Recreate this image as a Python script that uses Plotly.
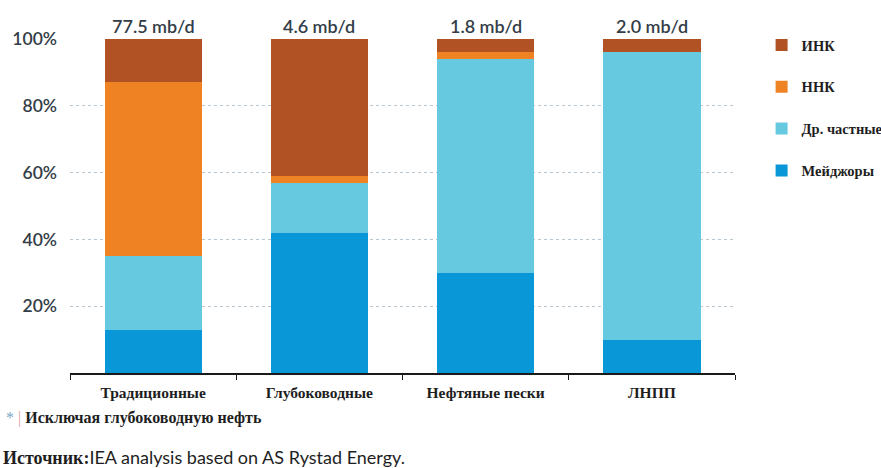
import plotly.graph_objects as go

# Production segments and their totals
categories = ["Традиционные", "Глубоководные", "Нефтяные пески", "ЛНПП"]
totals = ["77.5 mb/d", "4.6 mb/d", "1.8 mb/d", "2.0 mb/d"]

# Ownership shares, % of segment output
majors = [13, 42, 30, 10]          # Мейджоры
other_private = [22, 15, 64, 86]   # Др. частные
nnk = [52, 2, 2, 0]                # ННК
ink = [13, 41, 4, 4]               # ИНК

y_ticks = [20, 40, 60, 80, 100]
y_tick_labels = ["20%", "40%", "60%", "80%", "100%"]

# Stacked bottom to top; legend lists them top to bottom
series = [
    ("Мейджоры", majors, "#0A97D7"),
    ("Др. частные", other_private, "#66C9E0"),
    ("ННК", nnk, "#EF8323"),
    ("ИНК", ink, "#B15224"),
]

serif = "Liberation Serif"
sans = "Lato"

fig = go.Figure()
for i, (name, vals, color) in enumerate(series):
    fig.add_trace(go.Bar(
        x=categories, y=vals, name=name,
        marker=dict(color=color, line=dict(width=0)),
        width=0.585, legendgroup=f"g{i}",
        legendrank=len(series) - i,
    ))

# Totals above each column
for cat, label in zip(categories, totals):
    fig.add_annotation(
        x=cat, y=100, text=label, showarrow=False, yanchor="bottom", yshift=0,
        font=dict(family=sans, size=18, color="#333D47", weight=600),
    )

# Footnote and source
fig.add_annotation(
    xref="paper", yref="paper", x=-0.1, y=-0.135, xanchor="left", yanchor="middle",
    text="<span style='color:#7AA9C8'>*</span> <span style='color:#E8A0A0'>|</span> <b>Исключая глубоководную нефть</b>",
    showarrow=False, font=dict(family=serif, size=16, color="#1E1E1E"),
)
fig.add_annotation(
    xref="paper", yref="paper", x=-0.104, y=-0.25, xanchor="left", yanchor="middle",
    text="<span style='font-family:Liberation Serif'><b>Источник:</b></span>IEA analysis based on AS Rystad Energy.",
    showarrow=False, font=dict(family=sans, size=18, color="#1E1E1E"),
)

fig.update_layout(
    barmode="stack",
    width=881, height=468,
    margin=dict(l=70, r=146, t=39, b=95, autoexpand=False),
    paper_bgcolor="white", plot_bgcolor="white",
    legend=dict(
        x=1.04, y=1.03, xanchor="left", yanchor="top",
        traceorder="grouped", tracegroupgap=20,
        font=dict(family=serif, size=14.5, color="#1E1E1E", weight="bold"),
        itemwidth=30,
    ),
    xaxis=dict(
        showline=True, linecolor="#1A1A1A", linewidth=1.5,
        ticks="outside", tickson="boundaries", ticklen=5, tickcolor="#1A1A1A",
        tickfont=dict(family=serif, size=15.5, color="#1E1E1E", weight="bold"),
        ticklabelstandoff=5,
        showgrid=False,
    ),
    yaxis=dict(
        range=[0, 100], tickvals=y_ticks, ticktext=y_tick_labels,
        showgrid=True, gridcolor="#B8C8D2", griddash="dot", gridwidth=1,
        zeroline=False, showline=False, ticks="",
        tickfont=dict(family=sans, size=17.5, color="#333D47", weight=600),
        ticklabelstandoff=12,
    ),
    showlegend=True,
)

fig.write_html("out.html")
